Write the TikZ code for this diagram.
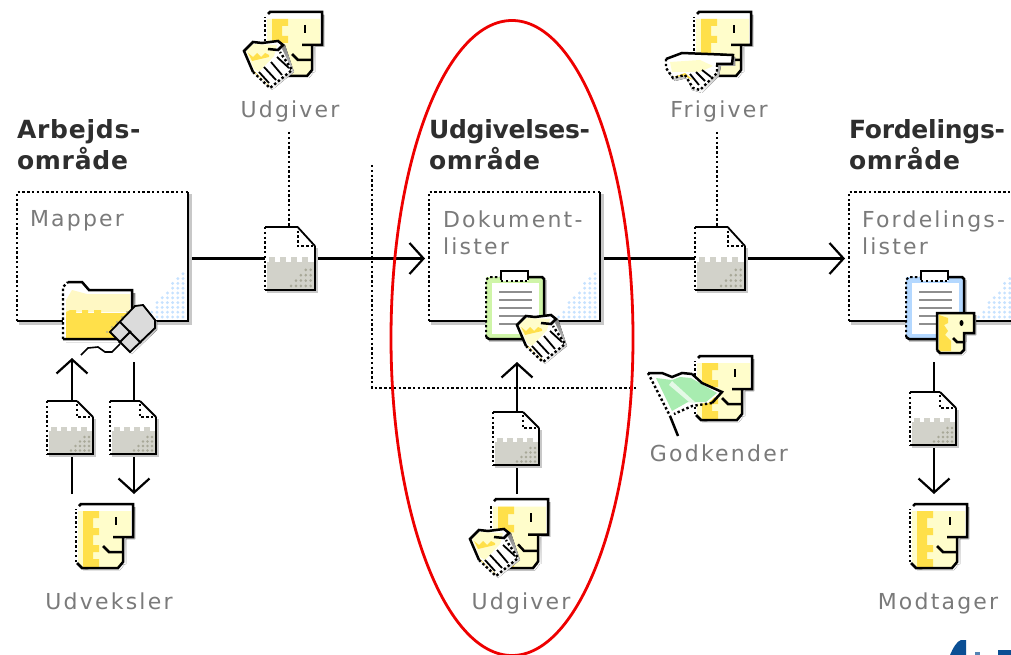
\documentclass[tikz,border=0pt]{standalone}
\usepackage{fontspec}
\usetikzlibrary{arrows.meta}
\setmainfont[LetterSpace=10]{DejaVu Sans}
\newfontfamily\titlefont[LetterSpace=3]{DejaVu Sans Bold}
\newfontfamily\titletight[LetterSpace=-1]{DejaVu Sans Bold}
\definecolor{lblgray}{HTML}{7A7A7A}
\definecolor{titleink}{HTML}{2E2E2E}
\definecolor{docgray}{HTML}{D2D2CA}
\definecolor{docdot}{HTML}{A8A898}
\definecolor{paleyel}{HTML}{FFFDCB}
\definecolor{stripey}{HTML}{FFE04A}
\definecolor{folderup}{HTML}{FFF8C4}
\definecolor{flaggreen}{HTML}{A8ECB0}
\definecolor{blued}{HTML}{C6E2FF}
\definecolor{shade}{HTML}{C8C8C8}
\definecolor{ringred}{HTML}{EE0000}
\definecolor{logoblue}{HTML}{0B4F94}
\definecolor{clipgreen}{HTML}{CFF5A8}
\definecolor{clipblue}{HTML}{B4D8FF}
\tikzset{
  every node/.style={inner sep=0pt,outer sep=0pt},
  solidln/.style={draw=black,line width=2.5pt},
  dotln/.style={draw=black,line width=2.4pt,dash pattern=on 2.4pt off 2.4pt},
  thinln/.style={draw=black,line width=1.8pt},
  shadeln/.style={draw=shade,line width=2.4pt},
  conn/.style={draw=black,line width=2.2pt},
  arrowconn/.style={conn,-{Straight Barb[length=14pt,width=31pt,line width=2.2pt]}},
  dotconn/.style={dotln},
  lbl/.style={text=lblgray,font=\fontsize{22}{22}\selectfont,anchor=base},
  lbli/.style={text=lblgray,font=\fontsize{22}{27}\selectfont,anchor=north west,align=left},
  ttl/.style={text=titleink,font=\titlefont\fontsize{25}{31}\selectfont,anchor=north west,align=left},
  box/.style={anchor=north west,minimum width=171pt,minimum height=129pt},
  icon/.style={anchor=north west}
}
% ---- panel
\newcommand{\panelat}[2]{%
  \begin{scope}[shift={(#1,#2)}]
    \fill[white] (0,0) rectangle (171,129);
    \draw[shadeln] (173.5,2) -- (173.5,131.5) -- (2,131.5);
    \foreach \j in {0,...,7}{
      \pgfmathtruncatemacro{\rows}{(8-\j)*1.35}
      \foreach \r in {1,...,\rows}{
        \fill[blued] ({166-\j*5.2},{125-(\r-1)*4.8}) circle (1.6);
      }
    }
    \draw[dotln] (0,129) -- (0,0) -- (171,0);
    \draw[solidln] (171,0) -- (171,129) -- (0,129);
  \end{scope}}
% ---- document icon
\newcommand{\docat}[4]{%
  \begin{scope}[shift={(#1,#2)},xscale=#3,yscale=#4]
    \fill[white] (0,0) -- (30,0) -- (46,16) -- (46,53) -- (0,53) -- cycle;
    \draw[shadeln] (47.5,18) -- (47.5,54.5) -- (2,54.5);
    \fill[docgray] (2,29.5) rectangle (45,52);
    \foreach \c in {4,14,24,34}{\fill[docgray] (\c,25.5) rectangle (\c+5.5,29.5);}
    \foreach \c/\n in {0/4,1/4,2/3,3/2,4/1}{
      \foreach \r in {1,...,\n}{\fill[docdot] ({42-\c*4.5},{54-\r*4.5}) circle (1.3);}
    }
    \draw[dotln] (0,0) -- (0,53);
    \draw[solidln] (0,0) -- (30,0);
    \draw[thinln] (30,0) -- (46,16);
    \draw[dotln,line width=2pt] (30,3) -- (30,16) -- (44,16);
    \draw[solidln] (46,16) -- (46,53) -- (0,53);
  \end{scope}}
% ---- face icon
\newcommand{\faceat}[4]{%
  \begin{scope}[shift={(#1,#2)},xscale=#3,yscale=#4]
    \fill[shade] (7,66) -- (44,66) -- (49,60) -- (49,35) -- (59,35) -- (59,3) -- (50,3) -- (50,60) -- cycle;
    \fill[white] (5,0) -- (57,0) -- (57,33) -- (47,33) -- (47,58) -- (42,64) -- (6,64) -- (0,58) -- (0,5) -- cycle;
    \fill[paleyel] (5,7) -- (55,7) -- (55,33) -- (47,33) -- (47,58) -- (42,63) -- (6,63) -- (2,58) -- (2,7) -- cycle;
    \fill[stripey] (7,7) -- (23,7) -- (23,14) -- (17,14) -- (17,24) -- (23,24) -- (23,31) -- (17,31) -- (17,41) -- (23,41) -- (23,48) -- (17,48) -- (17,55) -- (23,55) -- (23,63) -- (7,63) -- cycle;
    \draw[dotln] (0,58) -- (0,5);
    \draw[solidln] (3,2) -- (5,0) -- (57,0) -- (57,33) -- (37,33);
    \draw[solidln] (47,33) -- (47,58) -- (42,64) -- (6,64) -- (1,59);
    \draw[solidln] (40,13) -- (40,21);
    \draw[solidln] (27,42) -- (33,48) -- (47,48);
  \end{scope}}
% ---- diagonal hand icon (local box 48x48)
\newcommand{\handat}[3]{%
  \begin{scope}[shift={(#1,#2)},scale=#3]
    \fill[shade] (2,14) -- (11,5) -- (41,5) -- (50,32) -- (28,50) -- (11,34) -- cycle;
    \fill[white] (0,11) -- (9,2) -- (18,3) -- (34,1) -- (39,5) -- (38,9) -- (48,30) -- (26,48) -- (9,32) -- cycle;
    \fill[paleyel] (2,11) -- (9,4) -- (33,5) -- (30,16) -- (15,32) -- (10,29) -- cycle;
    \fill[stripey] (4,13) -- (9,17) -- (13,13) -- (17,17) -- (21,13) -- (25,15) -- (25,17) -- (8,21) -- cycle;
    \fill[stripey] (9,30) -- (23,44) -- (26,46) -- (11,33) -- cycle;
    \draw[solidln] (9,32) -- (0,11) -- (9,2) -- (18,3) -- (34,1) -- (39,5) -- (34,10) -- (24,9);
    \draw[dotln] (9,32) -- (26,48) -- (48,30) -- (36,12);
    \draw[thinln] (15,32) -- (25,43);
    \draw[thinln] (20,27) -- (32,40);
    \draw[thinln] (27,22) -- (38,35);
    \draw[thinln] (33,17) -- (45,28);
  \end{scope}}
% ---- clipboard
\newcommand{\clipat}[3]{%
  \begin{scope}[shift={(#1,#2)}]
    \draw[shadeln] (60,3) -- (60,63.5) -- (3,63.5);
    \fill[#3] (0,0) rectangle (58,62);
    \fill[white] (6,6) rectangle (53,57);
    \draw[dotln,line width=2pt] (0,60) -- (0,3) -- (3,0) -- (15,0);
    \draw[solidln] (42,0) -- (56,0) -- (58,2) -- (58,62) -- (3,62) -- (0,60);
    \fill[white] (15,-6) rectangle (42,4);
    \draw[solidln] (15,3) -- (15,-6) -- (42,-6) -- (42,3);
    \draw[dotln,line width=2pt] (15,4) -- (42,4);
    \foreach \r in {15,23,31,39,47}{\draw[draw=lblgray!85,line width=1.7pt] (13,\r) -- (46,\r);}
  \end{scope}}
\begin{document}
\begin{tikzpicture}[x=1pt,y=-1pt]
\useasboundingbox (0,0) rectangle (1011,655);
\clip (0,0) rectangle (1011,655);
\fill[white] (0,0) rectangle (1011,655);

% invisible layout nodes
\node[box] (p1) at (17,192) {};
\node[box] (p2) at (429,192) {};
\node[box] (p3) at (849,192) {};
\node[icon,minimum width=50pt,minimum height=63pt] (d1) at (265,227) {};
\node[icon,minimum width=50pt,minimum height=63pt] (d2) at (695,227) {};
\node[icon,minimum width=46pt,minimum height=53pt] (d3) at (47,401) {};
\node[icon,minimum width=46pt,minimum height=53pt] (d4) at (110,401) {};
\node[icon,minimum width=46pt,minimum height=53pt] (d5) at (493,412) {};
\node[icon,minimum width=46pt,minimum height=53pt] (d6) at (910,392) {};
\coordinate (a1) at (72,358);
\coordinate (s1) at (134,362);
\coordinate (e3) at (72,494);
\coordinate (e4) at (134,494);
\coordinate (s5) at (517,362);
\coordinate (e5) at (517,494);
\coordinate (s6) at (934,362);
\coordinate (e6) at (934,494);
\coordinate (u1) at (289,132);
\coordinate (f1) at (717,132);
\coordinate (g1) at (372,165);
\coordinate (g2) at (372,388);
\coordinate (g3) at (637,388);

% connectors
\draw[conn,shorten <=4pt] (p1.east |- d1.west) -- (d1.west);
\draw[arrowconn,shorten >=4pt] (d1.east) -- (p2.west |- d1.east);
\draw[conn,shorten <=4pt] (p2.east |- d2.west) -- (d2.west);
\draw[arrowconn,shorten >=4pt] (d2.east) -- (p3.west |- d2.east);
\draw[dotconn] (u1) -- (u1 |- d1.north);
\draw[dotconn] (f1) -- (f1 |- d2.north);
\draw[dotconn] (g1) -- (g2) -- (g3);
\draw[conn] (e3) -- (e3 |- d3.south);
\draw[arrowconn] (a1 |- d3.north) -- (a1);
\draw[conn] (s1) -- (s1 |- d4.north);
\draw[arrowconn] (e4 |- d4.south) -- (e4);
\draw[conn] (e5) -- (e5 |- d5.south);
\draw[arrowconn] (s5 |- d5.north) -- (s5);
\draw[conn] (s6) -- (s6 |- d6.north);
\draw[arrowconn] (e6 |- d6.south) -- (e6);

% panels
\panelat{17}{192}
\panelat{429}{192}
\panelat{849}{192}

% titles
\node[ttl] (t1) at (17,120) {Arbejds-\\område};
\node[ttl] (t2) at (429,120) {{\titletight Udgivelses-}\\område};
\node[ttl] (t3) at (849,120) {{\titletight Fordelings-}\\område};
% panel labels
\node[lbli] (m1) at (30,210) {Mapper};
\node[lbli] (m2) at (443,211) {Dokument-\\lister};
\node[lbli] (m3) at (862,211) {Fordelings-\\lister};
% person labels
\node[lbl] (l1) at (290,118) {Udgiver};
\node[lbl] (l2) at (719,118) {Frigiver};
\node[lbl] (l3) at (719,461) {Godkender};
\node[lbl] (l4) at (109,609) {Udveksler};
\node[lbl] (l5) at (521,609) {Udgiver};
\node[lbl] (l6) at (938,609) {Modtager};

% documents
\docat{265}{227}{1.087}{1.19}
\docat{695}{227}{1.087}{1.19}
\docat{47}{401}{1}{1}
\docat{110}{401}{1}{1}
\docat{493}{412}{1}{1}
\docat{910}{392}{1}{1}

% faces
\faceat{76}{504}{1}{1}
\faceat{265}{12}{1}{1}
\faceat{694}{12}{1}{1}
\faceat{695}{356}{1}{1}
\faceat{491}{499}{1}{1.08}
\faceat{910}{504}{1}{1}

% hands
\handat{244}{40}{1}
\handat{470}{528}{1}

% Frigiver hand
\fill[shade] (668,62) -- (682,56) -- (735,57) -- (735,66) -- (721,66) -- (719,76) -- (702,93) -- (692,90) -- (687,78) -- (675,81) -- (668,72) -- cycle;
\fill[white] (666,59) -- (682,53) -- (733,55) -- (732,64) -- (718,65) -- (717,73) -- (700,90) -- (693,88) -- (685,75) -- (673,78) -- (666,68) -- cycle;
\fill[paleyel] (670,62) -- (700,60) -- (713,66) -- (700,72) -- (685,72) -- (672,72) -- cycle;
\fill[stripey] (674,77) -- (685,73) -- (693,80) -- (684,76) -- cycle;
\draw[solidln] (666,59) -- (682,53) -- (733,55) -- (732,64) -- (716,64);
\draw[dotln] (666,59) -- (666,68) -- (673,78) -- (685,75) -- (693,88) -- (700,90) -- (717,73) -- (717,65);
\draw[thinln] (690,74) -- (699,85);
\draw[thinln] (696,72) -- (705,81);
\draw[thinln] (702,70) -- (711,77);

% Godkender flag
\fill[white] (650,373) -- (662,374) -- (672,377) -- (681,373) -- (692,374) -- (702,382) -- (720,392) -- (708,403) -- (692,404) -- (680,410) -- (672,414) -- cycle;
\fill[flaggreen] (656,378) -- (672,380) -- (680,377) -- (691,378) -- (717,393) -- (706,402) -- (688,402) -- (672,411) -- cycle;
\fill[white!70!flaggreen] (672,381) -- (696,403) -- (689,402) -- (669,385) -- cycle;
\draw[solidln] (648,373) -- (662,373) -- (672,377) -- (682,373) -- (692,374);
\draw[solidln] (692,374) -- (702,383) -- (722,392) -- (712,403);
\draw[dotln] (712,403) -- (692,406) -- (674,414);
\draw[dotln] (648,373) -- (670,416);
\draw[solidln] (670,416) -- (678,436);

% folder
\fill[shade] (66,342) -- (135,342) -- (135,293) -- (128,293) -- (128,342) -- cycle;
\fill[white] (63,287) -- (68,282) -- (82,282) -- (89,290) -- (132,290) -- (132,339) -- (63,339) -- cycle;
\fill[folderup] (66,300) -- (72,290) -- (87,294) -- (130,294) -- (130,312) -- (66,312) -- cycle;
\fill[stripey] (66,312) -- (70,310) -- (76,310) -- (76,313) -- (82,313) -- (82,310) -- (88,310) -- (88,313) -- (94,313) -- (94,310) -- (101,310) -- (101,313) -- (130,313) -- (130,338) -- (66,338) -- cycle;
\foreach \c/\n in {0/5,1/4,2/3,3/2,4/1}{
  \foreach \r in {1,...,\n}{\fill[docdot!80!stripey] ({127-\c*5},{337-\r*5}) circle (1.2);}
}
\draw[dotln] (63,339) -- (63,287) -- (68,282);
\draw[solidln] (68,282) -- (82,282) -- (89,290) -- (132,290) -- (132,339) -- (63,339);

% mouse
\draw[line width=1.6pt,black] (81,355) -- (88,348) -- (98,347) -- (105,352) -- (112,352) -- (120,344);
\fill[shade] (145,307) -- (157,322) -- (157,330) -- (132,354) -- (112,334) -- cycle;
\fill[white!86!black] (143,305) -- (155,320) -- (155,328) -- (130,352) -- (110,332) -- (135,306) -- cycle;
\draw[thinln] (143,305) -- (155,320) -- (155,328) -- (130,352) -- (110,332) -- (135,306) -- cycle;
\draw[thinln] (120,322) -- (141,343);
\draw[thinln] (119,343) -- (131,331);

% clipboards
\clipat{486}{277}{clipgreen}
\clipat{906}{277}{clipblue}
% hand on clipboard
\handat{517}{314}{1}
% small face
\begin{scope}[shift={(937,313)}]
  \fill[shade] (2,42) -- (26,42) -- (29,39) -- (29,22) -- (39,22) -- (39,2) -- (2,2) -- cycle;
  \fill[paleyel] (0,0) -- (37,0) -- (37,20) -- (27,20) -- (27,37) -- (24,40) -- (3,40) -- (0,37) -- cycle;
  \fill[stripey] (2,2) -- (11,5) -- (11,10) -- (7,12) -- (11,18) -- (8,22) -- (14,28) -- (14,38) -- (2,38) -- cycle;
  \draw[solidln] (0,37) -- (0,0) -- (37,0) -- (37,20) -- (27,20) -- (27,37) -- (24,40) -- (3,40) -- (0,37);
  \fill[black] (24.5,10) ellipse (2 and 3);
  \draw[solidln] (16,25) -- (20,29) -- (28,29);
\end{scope}

% logo fragment
\fill[logoblue] (950,655) .. controls (953,648) and (957,641) .. (961,640) -- (966,640) -- (966,655) -- cycle;
\fill[logoblue] (998,650) rectangle (1011,655);
\fill[logoblue!70] (975,652) rectangle (980,655);

% red ring
\draw[ringred,line width=2.8pt] (512,338) ellipse (121 and 317.5);
\end{tikzpicture}
\end{document}
